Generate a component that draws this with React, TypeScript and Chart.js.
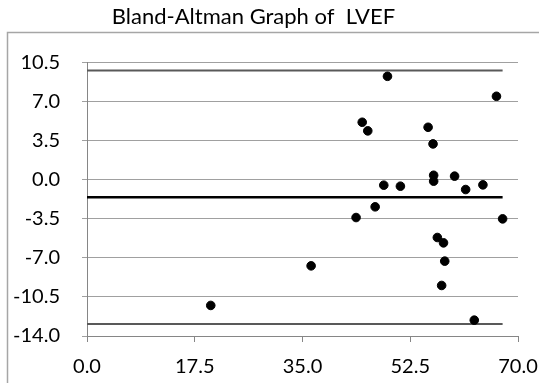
import React, { useEffect, useRef } from "react";
import { Chart, registerables } from "chart.js";

Chart.register(...registerables);

const titleText = "Bland-Altman Graph of  LVEF";

// Means (x) and differences (y)
const meanValues = [
  20.1, 36.4, 43.7, 44.7, 45.6, 46.8, 48.2, 48.8, 50.9, 55.4, 56.2, 56.3,
  56.3, 56.9, 57.6, 57.9, 58.1, 59.7, 61.5, 62.9, 64.3, 66.5, 67.5,
];
const diffValues = [
  -11.26, -7.71, -3.38, 5.16, 4.39, -2.42, -0.48, 9.28, -0.57, 4.71, 3.22,
  0.41, -0.12, -5.17, -9.47, -5.65, -7.29, 0.33, -0.87, -12.58, -0.45, 7.49,
  -3.5,
];

const lineStartX = 0;
const lineEndX = 67.5;
const meanDiff = -1.57;
const upperLoA = 9.79;
const lowerLoA = -12.93;

const xMin = 0;
const xMax = 70;
const xStep = 17.5;
const yMin = -14;
const yMax = 10.5;
const yStep = 3.5;

const FONT = "Lato, 'Open Sans', sans-serif";

const framePlugin = {
  id: "frame",
  beforeDraw(chart: any) {
    const ctx = chart.ctx;
    ctx.save();
    ctx.fillStyle = "#ffffff";
    ctx.fillRect(0, 0, chart.width, chart.height);
    ctx.strokeStyle = "#a6a6a6";
    ctx.lineWidth = 1.5;
    ctx.beginPath();
    ctx.moveTo(7.5, chart.height);
    ctx.lineTo(7.5, 32.5);
    ctx.lineTo(chart.width, 32.5);
    ctx.stroke();
    ctx.fillStyle = "#000000";
    ctx.font = `22px ${FONT}`;
    ctx.textAlign = "center";
    ctx.textBaseline = "alphabetic";
    ctx.fillText(titleText, 253.5, 23.5);
    ctx.restore();
  },
};

export default function App() {
  const ref = useRef<HTMLCanvasElement | null>(null);

  useEffect(() => {
    if (!ref.current) return;
    const points = meanValues.map((x, i) => ({ x, y: diffValues[i] }));
    const hLine = (y: number) => [
      { x: lineStartX, y },
      { x: lineEndX, y },
    ];
    const chart = new Chart(ref.current, {
      type: "scatter",
      data: {
        datasets: [
          {
            label: "Difference",
            data: points,
            backgroundColor: "#000000",
            borderColor: "#000000",
            pointRadius: 4.3,
            pointHoverRadius: 4.3,
            order: 0,
          },
          {
            label: "Upper limit",
            data: hLine(upperLoA),
            showLine: true,
            borderColor: "#595959",
            borderWidth: 2,
            pointRadius: 0,
            order: 1,
          },
          {
            label: "Mean",
            data: hLine(meanDiff),
            showLine: true,
            borderColor: "#000000",
            borderWidth: 2.5,
            pointRadius: 0,
            order: 1,
          },
          {
            label: "Lower limit",
            data: hLine(lowerLoA),
            showLine: true,
            borderColor: "#595959",
            borderWidth: 2,
            pointRadius: 0,
            order: 1,
          },
        ],
      },
      options: {
        responsive: false,
        animation: false,
        layout: { padding: { top: 62.7, right: 21, left: 0, bottom: 0 } },
        plugins: {
          legend: { display: false },
          tooltip: { enabled: false },
          title: { display: false },
        },
        scales: {
          x: {
            type: "linear",
            min: xMin,
            max: xMax,
            afterFit: (s: any) => {
              s.height = 47;
              s.paddingLeft = 0;
              s.paddingRight = 0;
            },
            ticks: {
              stepSize: xStep,
              color: "#000000",
              font: { family: FONT, size: 20 },
              padding: 13,
              maxRotation: 0,
              callback: (v: any) => Number(v).toFixed(1),
            },
            grid: {
              drawOnChartArea: false,
              drawTicks: true,
              tickLength: 6,
              color: "#868686",
            },
            border: { display: true, color: "#868686", width: 1 },
          },
          y: {
            type: "linear",
            min: yMin,
            max: yMax,
            afterFit: (s: any) => {
              s.width = 87;
              s.paddingTop = 0;
              s.paddingBottom = 0;
            },
            ticks: {
              stepSize: yStep,
              color: "#000000",
              font: { family: FONT, size: 20 },
              padding: 22,
              callback: (v: any) => Number(v).toFixed(1),
            },
            grid: {
              drawOnChartArea: true,
              drawTicks: true,
              tickLength: 5,
              color: "#a0a0a0",
            },
            border: { display: true, color: "#868686", width: 1 },
          },
        },
      },
      plugins: [framePlugin],
    });
    return () => chart.destroy();
  }, []);

  return (
    <div
      style={{
        position: "fixed",
        left: 0,
        top: 0,
        width: 539,
        height: 383,
        background: "#fff",
      }}
    >
      <canvas ref={ref} width={539} height={383} style={{ width: 539, height: 383 }} />
    </div>
  );
}
